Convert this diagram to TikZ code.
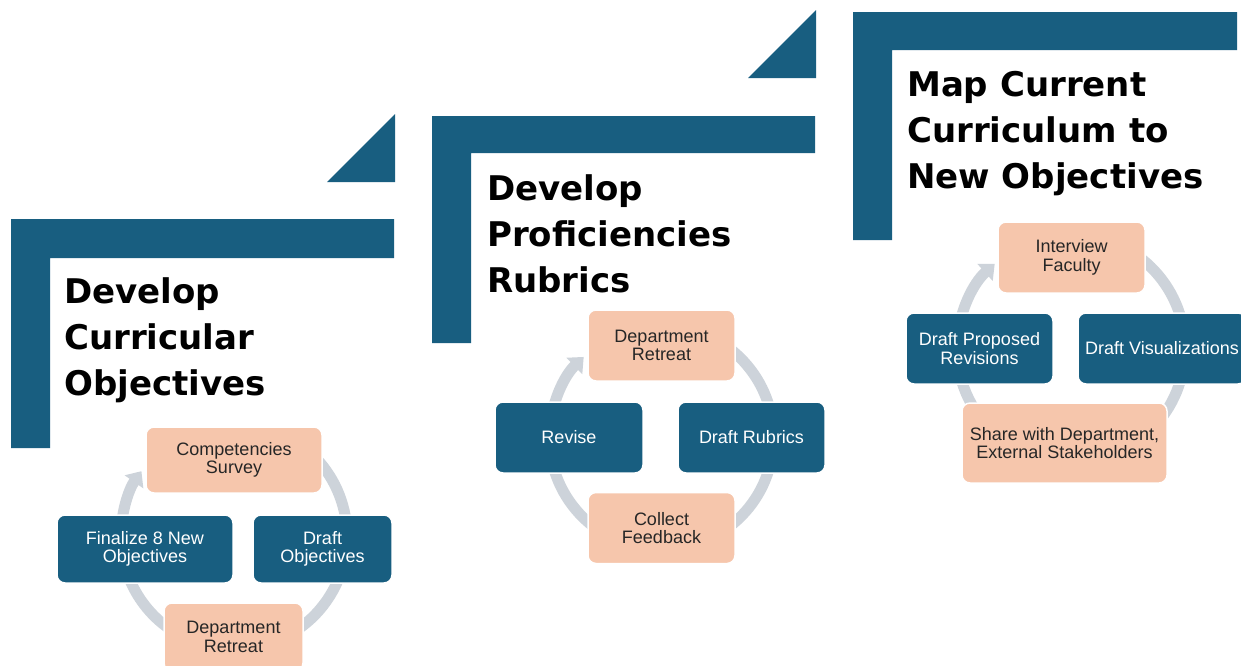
\documentclass[tikz,border=0pt]{standalone}
\usepackage{fontspec}
\setmainfont{Liberation Sans}
\newfontfamily\titlefont{DejaVu Sans}
\usetikzlibrary{arrows.meta}
\definecolor{cblue}{RGB}{24,94,128}
\definecolor{cpeach}{RGB}{246,198,172}
\definecolor{cring}{RGB}{205,211,218}
\definecolor{ctext}{RGB}{38,38,38}
\begin{document}
\begin{tikzpicture}[x=1pt,y=-1pt,
  box/.style={draw=white, line width=1.5pt, rounded corners=8pt, align=center,
    inner sep=2pt, font=\fontsize{18}{18.5}\selectfont},
  bluebox/.style={box, fill=cblue, text=white},
  peachbox/.style={box, fill=cpeach, text=ctext},
  ringarrow/.style={draw=cring, line width=11pt, -{Triangle[width=22pt,length=13pt]}},
  bar/.style={fill=cblue},
  titletext/.style={anchor=north west, inner sep=0pt, align=left,
    font=\titlefont\bfseries\fontsize{34}{46}\selectfont}]
\useasboundingbox (0,0) rectangle (1241,665);
\clip (0,0) rectangle (1241,665);
\fill[white] (0,0) rectangle (1241,665);

% ---------- Panel 1 ----------
\fill[bar] (11,219) -- (394,219) -- (394,258) -- (50,258) -- (50,448) -- (11,448) -- cycle;
\fill[bar] (327,182) -- (395,182) -- (395,114) -- cycle;
\node[titletext] (t1) at (64,277) {Develop\\Curricular\\Objectives};
\coordinate (o1) at (234,536);
\draw[ringarrow] (o1) ++(-58:113) arc[start angle=-58, end angle=215, radius=113];
\node[peachbox, minimum width=176pt, minimum height=66pt] (a1) at (234,460) {Competencies\\Survey};
\node[bluebox, minimum width=176pt, minimum height=68pt] (b1) at (145,549) {Finalize 8 New\\Objectives};
\node[bluebox, minimum width=139pt, minimum height=68pt] (c1) at (322.5,549) {Draft\\Objectives};
\node[peachbox, minimum width=139pt, minimum height=68pt] (d1) at (233.5,637) {Department\\Retreat};

% ---------- Panel 2 ----------
\fill[bar] (432,116) -- (815,116) -- (815,153) -- (471,153) -- (471,343) -- (432,343) -- cycle;
\fill[bar] (748,78) -- (816,78) -- (816,10) -- cycle;
\node[titletext] (t2) at (487,174) {Develop\\Proficiencies\\Rubrics};
\coordinate (o2) at (661.5,437.5);
\draw[ringarrow] (o2) ++(-85:112) arc[start angle=-85, end angle=226, radius=112];
\node[peachbox, minimum width=147pt, minimum height=71pt] (a2) at (661.5,345.5) {Department\\Retreat};
\node[bluebox, minimum width=148pt, minimum height=71pt] (b2) at (569,437.5) {Revise};
\node[bluebox, minimum width=147pt, minimum height=71pt] (c2) at (751.5,437.5) {Draft Rubrics};
\node[peachbox, minimum width=147pt, minimum height=71pt] (d2) at (661.5,528) {Collect\\Feedback};

% ---------- Panel 3 ----------
\fill[bar] (853,12) -- (1237,12) -- (1237,50) -- (892,50) -- (892,240) -- (853,240) -- cycle;
\node[titletext] (t3) at (907,71.5) {Map Current\\Curriculum to\\New Objectives};
\coordinate (o3) at (1071,348.5);
\draw[ringarrow] (o3) ++(-85:114) arc[start angle=-85, end angle=228, radius=114];
\node[peachbox, minimum width=147pt, minimum height=71pt] (a3) at (1071.5,257.5) {Interview\\Faculty};
\node[bluebox, minimum width=147pt, minimum height=71pt] (b3) at (979.5,348.5) {Draft Proposed\\Revisions};
\node[bluebox, minimum width=168pt, minimum height=71pt] (c3) at (1162,348.5) {Draft Visualizations};
\node[peachbox, minimum width=205pt, minimum height=80pt] (d3) at (1064.5,443) {Share with Department,\\External Stakeholders};
\end{tikzpicture}
\end{document}
